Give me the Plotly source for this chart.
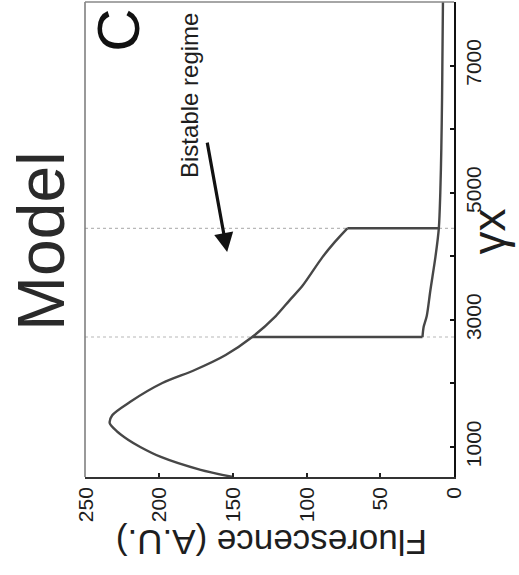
import plotly.graph_objects as go

# ---- data ----
# upper stable branch: gamma_x vs fluorescence
upper_gx = [528, 640, 843, 1000, 1110, 1250, 1373, 1500, 1708, 2006, 2211, 2447, 2730,
            3060, 3311, 3531, 3987, 4223, 4440]
upper_F = [150, 172, 199, 213, 221, 229, 233.7, 232, 220, 198, 176, 155, 137,
           121, 111.5, 103, 89.3, 81, 72.4]
# lower stable branch
lower_gx = [2730, 2890, 3060, 3470, 3990, 4440, 5000, 5700, 6500, 7000, 8000]
lower_F = [21.4, 20.6, 18.5, 16.0, 12.6, 10.3, 9.3, 8.6, 8.1, 7.9, 7.5]
# saddle-node (bistability limits)
sn_gx = [2730, 4440]

F_ticks = [0, 50, 100, 150, 200, 250]
gx_ticks = [1000, 2000, 3000, 4000, 5000, 6000, 7000, 8000]
gx_ticklabels = ["1000", "", "3000", "", "5000", "", "7000", ""]

F_range = [250.5, 0]
gx_range = [528, 8000]

FONT = "Liberation Sans, Arial, sans-serif"
INK = "#1e1e1e"
CURVE = "#474747"

fig = go.Figure()

# dotted guides at the two bifurcation points
for g in sn_gx:
    fig.add_trace(go.Scatter(x=F_range, y=[g, g], mode="lines",
                             line=dict(color="#b8b8b8", width=1.2, dash="dot"),
                             hoverinfo="skip", showlegend=False))

# jumps between branches
for g in sn_gx:
    fu = upper_F[upper_gx.index(g)]
    fl = lower_F[lower_gx.index(g)]
    fig.add_trace(go.Scatter(x=[fu, fl], y=[g, g], mode="lines",
                             line=dict(color=CURVE, width=2.4),
                             showlegend=False))

fig.add_trace(go.Scatter(x=upper_F, y=upper_gx, mode="lines",
                         line=dict(color=CURVE, width=2.4, shape="spline", smoothing=0.8),
                         showlegend=False))
fig.add_trace(go.Scatter(x=lower_F, y=lower_gx, mode="lines",
                         line=dict(color=CURVE, width=2.4, shape="spline", smoothing=0.8),
                         showlegend=False))

fig.update_layout(
    width=519, height=575,
    margin=dict(l=85, r=65, t=2, b=98),
    paper_bgcolor="white", plot_bgcolor="white",
    showlegend=False,
    xaxis=dict(range=F_range, tickvals=F_ticks, tickangle=-90,
               ticks="inside", ticklen=4, tickwidth=2, tickcolor="#222",
               showline=True, linecolor="#333", linewidth=1.5,
               showgrid=False, zeroline=False,
               tickfont=dict(family=FONT, size=21, color=INK)),
    yaxis=dict(range=gx_range, side="right", tickvals=gx_ticks, ticktext=gx_ticklabels,
               tickangle=-90, ticks="inside", ticklen=4, tickwidth=2, tickcolor="#111",
               showline=True, linecolor="#111", linewidth=2,
               showgrid=False, zeroline=False,
               tickfont=dict(family=FONT, size=21, color=INK)),
)

# left and top frame lines (lighter)
fig.add_shape(type="line", xref="paper", yref="paper", x0=0, x1=0, y0=0, y1=1,
              line=dict(color="#777", width=1.5))
fig.add_shape(type="line", xref="paper", yref="paper", x0=0, x1=1, y0=1, y1=1,
              line=dict(color="#888", width=1.5))

# texts (rotated like the reference)
fig.add_annotation(text="Model", xref="paper", yref="paper", x=-0.119, y=0.497,
                   xanchor="center", yanchor="middle", showarrow=False, textangle=-90,
                   font=dict(family=FONT, size=66, color="#2a2a2a"))
fig.add_annotation(text="Fluorescence (A.U.)", xref="paper", yref="paper", x=0.504, y=-0.139,
                   xanchor="center", yanchor="middle", showarrow=False, textangle=180,
                   font=dict(family=FONT, size=35, color=INK))
fig.add_annotation(text="γx", xref="paper", yref="paper", x=1.094, y=0.516,
                   xanchor="center", yanchor="middle", showarrow=False, textangle=-90,
                   font=dict(family=FONT, size=46, color=INK))
fig.add_annotation(text="C", xref="paper", yref="paper", x=0.089, y=0.941,
                   xanchor="center", yanchor="middle", showarrow=False, textangle=-90,
                   font=dict(family=FONT, size=60, color="#111"))
fig.add_annotation(text="Bistable regime", x=180, y=6535, xref="x", yref="y",
                   xanchor="center", yanchor="middle", showarrow=False, textangle=-90,
                   font=dict(family=FONT, size=24, color=INK))
fig.add_annotation(text="", x=154, y=4066, xref="x", yref="y",
                   ax=167.7, ay=5811, axref="x", ayref="y",
                   showarrow=True, arrowhead=2, arrowsize=1.2, arrowwidth=3.2,
                   arrowcolor="#111")

fig.write_html("out.html")
